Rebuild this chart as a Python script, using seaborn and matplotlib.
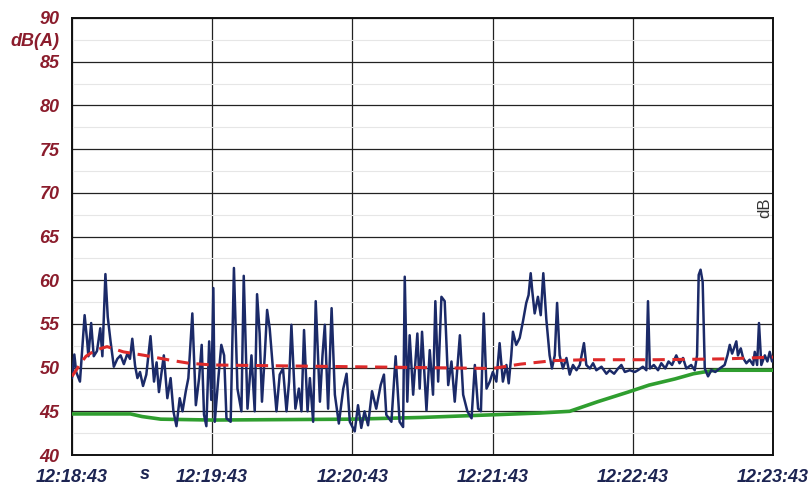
import matplotlib
matplotlib.use("Agg")
import matplotlib.pyplot as plt
import seaborn as sns
import pandas as pd

# ---- data (seconds after 12:18:43, dB(A)) ----
blue_t = [0, 1, 1.8, 3.4, 5.4, 6.5, 7, 8.2, 9.3, 10.7, 12.1, 13, 14.3, 15.3, 16.5, 17.9, 19.4, 20.8,
          22.2, 23.7, 24.8, 25.8, 27, 28, 29.1, 30.4, 31.8, 33.6, 35.1, 36.2, 37.2, 39.3, 40.8, 42.2,
          43.4, 44.7, 46.1, 47.3, 48.7, 49.8, 51.5, 53, 54.4, 55.5, 56.5, 57.5, 58.7, 59.6,
          60.5, 61.1, 62.5, 63.9, 65.1, 66.1, 67.9, 69.3, 70.8, 72.5, 73.5, 75.1, 76.8, 78.2, 79.2,
          80.3, 81.3, 82.5, 83.5, 84.6, 86.1, 87.5, 88.9, 90.3, 91.8, 92.9, 93.9, 95.6, 97.1, 98.2,
          99.3, 100.8, 101.8, 103.2, 104.3, 106.1, 107.2, 108.2, 109.6, 111.1, 112.5, 114.2, 116.1,
          117.5, 118.9, 121, 122.4, 123.8, 125.2, 126.7, 128.4, 130.2, 132.1, 133.5, 134.5, 136.7,
          138.5, 140.2, 141.7, 142.4, 143.5, 144.5, 146, 147.8, 148.8, 149.8, 151.7, 153.1, 154.5,
          155.5, 156.7, 158.1, 159.5, 161, 162.4, 163.8, 166, 167.4, 169.2, 171, 172.4, 173.8, 175,
          176.2, 177.4, 178.8, 180.1, 181.6, 183, 184.4, 185.9, 186.9, 188, 188.7, 190.1, 191.6,
          193, 194.4, 195.4, 196.3, 197, 198, 199.4, 200.6, 201.7, 203, 204.4, 205.4, 206.6, 207.6,
          208.7, 210.1, 211.6, 213, 214.4, 215.9, 217.3, 219.1, 220.1, 221.6, 223, 224.4, 226.6,
          228.7, 230.1, 232, 233.7, 235.1, 236.6, 238.7, 240.9, 242.2, 244.3, 245.8, 246.5, 247.3,
          249, 250.8, 252.2, 253.9, 255.3, 256.8, 258.6, 260, 261.5, 262.9, 265, 266.5, 267.5,
          268.2, 269, 269.9, 270.8, 272.2, 273.6, 275.3, 277.2, 279.3, 280.5, 281.5, 282.5, 283.3,
          284.3, 285, 286.2, 287.2, 288.6, 290, 291.5, 292.2, 293.2, 294, 295, 296.5, 297.6, 298.6,
          299.6, 300]
blue_db = [48.8, 51.5, 49.5, 48.4, 56.0, 53.0, 51.3, 55.1, 51.3, 51.9, 54.5, 51.3, 60.7, 55.8, 53.0,
           50.1, 51.0, 51.4, 50.4, 51.6, 51.0, 53.3, 50.2, 48.8, 49.5, 47.9, 49.2, 53.6, 48.4, 50.6,
           47.2, 51.4, 46.5, 48.8, 45.0, 43.3, 46.5, 45.0, 47.3, 48.8, 56.2, 45.7, 48.8, 52.6, 44.6,
           43.3, 53.0, 46.3,
           59.1, 43.8, 48.4, 52.6, 51.4, 44.2, 43.8, 61.4, 47.6, 45.0, 60.5, 45.3, 51.4, 45.0, 58.4,
           53.9, 46.1, 51.4, 56.6, 54.5, 49.5, 45.0, 49.2, 49.9, 45.0, 48.4, 54.9, 45.3, 47.6, 45.0,
           54.3, 45.0, 48.8, 43.8, 57.6, 46.1, 51.4, 54.9, 45.3, 56.8, 46.9, 43.6, 47.6,
           49.3, 43.8, 42.7, 45.7, 43.1, 45.0, 43.4, 47.3, 45.3, 48.0, 49.2, 44.6, 43.8,
           51.3, 43.8, 43.2, 60.4, 46.1, 53.7, 46.9, 53.9, 47.6, 54.1, 45.1, 52.0, 46.9,
           57.6, 48.4, 58.1, 57.6, 48.0, 50.7, 46.1, 53.7, 46.9, 45.0, 44.2, 50.3, 45.3, 45.0,
           56.2, 47.6, 48.4, 49.5, 48.4, 52.8, 48.4, 50.3, 48.2, 51.4, 54.1, 52.6, 53.4,
           55.3, 57.4, 58.3, 60.8, 58.7, 56.2, 58.1, 56.0, 60.8, 55.5, 51.4, 49.9, 51.4, 57.4,
           51.4, 49.9, 51.1, 49.2, 50.3, 49.7, 50.3, 52.8, 50.3, 49.9, 50.5, 49.7, 50.1,
           49.3, 49.7, 49.3, 49.9, 50.3, 49.5, 49.7, 49.5, 49.7, 50.1, 49.7, 57.6, 49.9,
           50.3, 49.7, 50.5, 49.9, 50.7, 50.3, 51.4, 50.5, 51.1, 49.9, 50.3, 49.7, 51.4,
           60.6, 61.2, 59.8, 49.9, 49.0, 49.7, 49.5, 49.9, 50.3, 51.4, 52.6, 51.6, 52.2,
           53.0, 51.4, 52.2, 51.1, 50.5, 50.9, 50.3, 51.8, 50.3, 55.1, 50.3, 51.4, 50.7, 51.8,
           50.7, 51.0]

red_t = [0, 2, 4, 6, 10, 15, 22, 31, 41, 50, 60, 90, 120, 150, 180, 192, 206, 220, 250, 280, 300]
red_db = [49.0, 49.8, 50.6, 51.3, 52.0, 52.4, 51.8, 51.4, 50.9, 50.5, 50.3, 50.2, 50.1, 50.0, 49.9,
          50.4, 50.8, 50.9, 50.9, 51.0, 51.2]

green_t = [0, 25, 30, 38, 60, 120, 150, 180, 200, 213, 225, 238, 247, 258, 266, 275, 300]
green_db = [44.7, 44.7, 44.4, 44.1, 44.0, 44.1, 44.3, 44.6, 44.8, 45.0, 46.1, 47.2, 48.0, 48.7,
            49.3, 49.7, 49.7]

x_ticks = [0, 60, 120, 180, 240, 300]
x_labels = ["12:18:43", "12:19:43", "12:20:43", "12:21:43", "12:22:43", "12:23:43"]
y_ticks = [40, 45, 50, 55, 60, 65, 70, 75, 80, 85, 90]

# ---- style ----
sns.set_style("white")
plt.rcParams["font.family"] = ["Liberation Sans", "DejaVu Sans"]

fig = plt.figure(figsize=(8.1, 4.86), dpi=100)
ax = fig.add_axes([72 / 810, 1 - 455 / 486, (773 - 72) / 810, (455 - 18) / 486])

df_g = pd.DataFrame({"t": green_t, "db": green_db})
df_b = pd.DataFrame({"t": blue_t, "db": blue_db})
df_r = pd.DataFrame({"t": red_t, "db": red_db})

sns.lineplot(data=df_g, x="t", y="db", ax=ax, color="#2f9e2f", lw=2.6, estimator=None, zorder=3)
sns.lineplot(data=df_b, x="t", y="db", ax=ax, color="#1b2a68", lw=1.8, estimator=None, zorder=4)
sns.lineplot(data=df_r, x="t", y="db", ax=ax, color="#dd2a2a", lw=2.2, estimator=None, zorder=5,
             dashes=False, linestyle=(0, (4, 2.5)))

ax.set_xlim(0, 300)
ax.set_ylim(40, 90)
ax.set_xlabel("")
ax.set_ylabel("")

ax.set_xticks(x_ticks)
ax.set_xticklabels(x_labels)
ax.set_xticks([t for t in range(0, 301, 15) if t % 60 != 0], minor=True)
ax.set_yticks(y_ticks)
ax.set_yticklabels([str(v) for v in y_ticks])
minor_y = [42.5 + 5 * i for i in range(10)]
ax.set_yticks(minor_y, minor=True)
ax.set_yticklabels(["" if v != 87.5 else "dB(A)" for v in minor_y], minor=True)

ax.grid(True, which="major", color="#222222", lw=0.9)
ax.grid(True, which="minor", axis="y", color="#e6e6e6", lw=0.8)
ax.set_axisbelow(True)

for sp in ax.spines.values():
    sp.set_color("#111111")
    sp.set_linewidth(1.4)

ax.tick_params(axis="both", which="both", direction="out", color="#111111", length=6, width=1)
ax.tick_params(axis="x", which="major", pad=4, labelsize=13, labelcolor="#1c2452")
ax.tick_params(axis="y", which="both", pad=3, labelsize=13, labelcolor="#8b1c2c")
for lab in ax.get_xticklabels() + ax.get_yticklabels() + ax.get_yticklabels(minor=True):
    lab.set_fontstyle("italic")
    lab.set_fontweight("bold")

ax.text(31, -0.026, "s", transform=ax.get_xaxis_transform(), ha="center", va="top",
        fontsize=13, fontstyle="italic", fontweight="bold", color="#1c2452")
ax.text(296.5, 0.565, "dB", transform=ax.get_xaxis_transform(), ha="center", va="center",
        rotation=90, fontsize=12, color="#333333")

fig.savefig("out.png", dpi=100)
